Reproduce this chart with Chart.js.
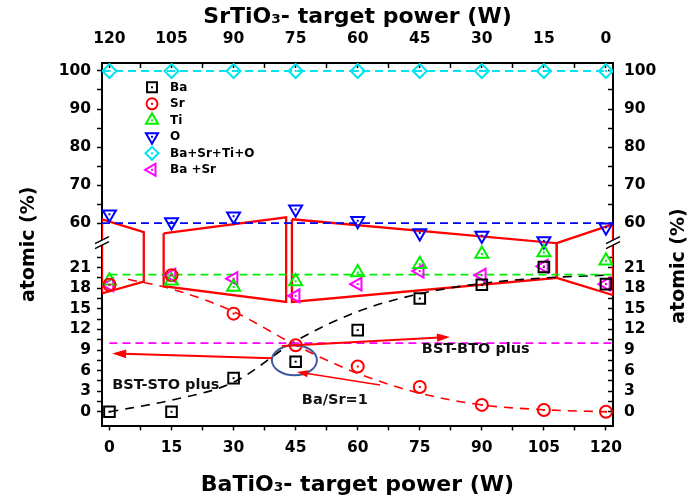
<!DOCTYPE html>
<html>
<head>
<meta charset="utf-8">
<script src="https://cdn.jsdelivr.net/npm/chart.js@4.4.0/dist/chart.umd.min.js"></script>
<style>
    body { margin: 0; background: #fff; }
    #wrap { width: 694px; height: 502px; position: relative; }
</style>
</head>
<body>
<div id="wrap"><canvas id="myChart"></canvas></div>
<script>
// BaTiO3 target power (bottom); SrTiO3 power on top is 120 - x
var power = [0, 15, 30, 45, 60, 75, 90, 105, 120]

var ba    = [0, 0, 4.9, 7.3, 11.9, 16.5, 18.5, 21.1, 18.6]
var sr    = [18.5, 19.9, 14.3, 9.7, 6.6, 3.6, 1.0, 0.25, 0]
var ti    = [19.1, 19.1, 18.2, 19.0, 20.3, 21.5, 23.0, 23.2, 22.0]
var oxy   = [62.3, 60.3, 61.8, 63.6, 60.6, 57.4, 56.7, 55.3, 58.9]
var total = [100, 100, 100, 100, 100, 100, 100, 100, 100]
var baSr  = [18.5, 19.9, 19.4, 16.9, 18.6, 20.5, 19.9, 21.2, 18.6]

// dashed guide curves
var baFitX = [0, 15, 30, 45, 60, 75, 90, 105, 120]
var baFitY = [0, 1.7, 4.3, 10.3, 14.6, 17.2, 18.7, 19.5, 19.9]
var srFitX = [4.5, 15, 30, 45, 60, 75, 90, 105, 120]
var srFitY = [19.3, 17.9, 14.6, 9.7, 5.6, 2.7, 1.0, 0.3, 0]

// horizontal dashed levels
var levelVal   = [100, 60, 20, 10]
var levelStart = [-1.8, -1.8, 0, 0]

// red outline boxes (power, atomic %)
var box1 = [[-1.8, 61.0], [8.3, 57.6], [8.3, 18.95], [-1.8, 17.25]]
var box2 = [[13.1, 57.3], [42.7, 61.5], [42.7, 16.0], [13.1, 18.3]]
var box3 = [[44.1, 61.0], [108.1, 54.7], [108.1, 19.5], [44.1, 16.0]]
var box4 = [[108.1, 54.7], [121.7, 59.7], [121.7, 17.0], [108.1, 19.5]]

// annotations
var arrowFrom = [[39.3, 7.8], [41.7, 9.6], [65.4, 3.9]]
var arrowTo   = [[0.65, 8.5], [82.3, 10.9], [45.3, 5.8]]
var noteText  = ['BST-STO plus', 'BST-BTO plus', 'Ba/Sr=1']
var noteAt    = [[0.65, 3.8], [75.5, 9.1], [46.5, 1.7]]
var ringAt    = [44.7, 7.5]

// ticks
var xLabels = [0, 15, 30, 45, 60, 75, 90, 105, 120]
var yLowLabels = [0, 3, 6, 9, 12, 15, 18, 21]
var yHighLabels = [60, 70, 80, 90, 100]

var X_MIN = -1.8, X_MAX = 121.7
var FONT = "'DejaVu Sans', sans-serif"

// broken y axis: 0..24 linear, then jump to 54..102 compressed
function brk(v) {
    var lowTop = 24, highBot = 54
    var dHighBot = 27.5 + (highBot - 60) * 0.554
    if (v <= lowTop) return v
    if (v >= highBot) return 27.5 + (v - 60) * 0.554
    return lowTop + (v - lowTop) / (highBot - lowTop) * (dHighBot - lowTop)
}

var xTickVals = []
for (var i = 0; i <= 16; i++) xTickVals.push(i * 7.5)
var yTickVals = []
for (var i = 0; i <= 15; i++) yTickVals.push(i * 1.5)
for (var i = 0; i <= 8; i++) yTickVals.push(60 + i * 5)

var yLabelMap = {}
yLowLabels.concat(yHighLabels).forEach(function (v) { yLabelMap[brk(v).toFixed(3)] = String(v) })

function pts(xs, ys) {
    return xs.map(function (x, i) { return { x: x, y: brk(ys[i]) } })
}
function poly(p) {
    var d = p.map(function (q) { return { x: q[0], y: brk(q[1]) } })
    d.push(d[0])
    return d
}

var series = [
    { label: 'Ba', ys: ba, color: '#000000', style: 'rect', rot: 0, r: 7.5 },
    { label: 'Sr', ys: sr, color: '#ff0000', style: 'circle', rot: 0, r: 6 },
    { label: 'Ti', ys: ti, color: '#00ee00', style: 'triangle', rot: 0, r: 7.5 },
    { label: 'O', ys: oxy, color: '#0000ff', style: 'triangle', rot: 180, r: 7.5 },
    { label: 'Ba+Sr+Ti+O', ys: total, color: '#00e5ee', style: 'rectRot', rot: 0, r: 7 },
    { label: 'Ba +Sr', ys: baSr, color: '#ff00ff', style: 'triangle', rot: 270, r: 7.5 }
]
var levelColors = ['#00e5ee', '#0000ff', '#00ee00', '#ff00ff']

var datasets = []
series.forEach(function (s) {
    datasets.push({
        label: s.label, data: pts(power, s.ys), showLine: false,
        pointStyle: s.style, rotation: s.rot, pointRotation: s.rot, pointRadius: s.r, pointHoverRadius: s.r,
        pointBorderWidth: 2, pointBorderColor: s.color, pointBackgroundColor: 'rgba(0,0,0,0)',
        borderColor: s.color, order: 0, marker: true
    })
})
levelVal.forEach(function (v, i) {
    datasets.push({
        data: pts([levelStart[i], X_MAX], [v, v]), showLine: true, pointRadius: 0,
        borderColor: levelColors[i], borderWidth: 1.8, borderDash: [8, 5], order: 1
    })
})
datasets.push({
    data: pts(baFitX, baFitY), showLine: true, pointRadius: 0, borderColor: '#000',
    borderWidth: 1.6, borderDash: [9, 7], cubicInterpolationMode: 'monotone', order: 1
})
datasets.push({
    data: pts(srFitX, srFitY), showLine: true, pointRadius: 0, borderColor: '#ff0000',
    borderWidth: 1.6, borderDash: [9, 7], cubicInterpolationMode: 'monotone', order: 1
})
;[box1, box2, box3, box4].forEach(function (b) {
    datasets.push({
        data: poly(b), showLine: true, pointRadius: 0, borderColor: '#ff0000',
        borderWidth: 2.3, tension: 0, order: 2
    })
})

function drawArrow(ctx, x1, y1, x2, y2, w, head) {
    var a = Math.atan2(y2 - y1, x2 - x1)
    var c = Math.cos(a), s = Math.sin(a)
    ctx.strokeStyle = '#ff0000'
    ctx.fillStyle = '#ff0000'
    ctx.lineWidth = w
    ctx.beginPath()
    ctx.moveTo(x1, y1)
    ctx.lineTo(x2 - head * 0.8 * c, y2 - head * 0.8 * s)
    ctx.stroke()
    ctx.beginPath()
    ctx.moveTo(x2, y2)
    ctx.lineTo(x2 - head * c + head * 0.32 * s, y2 - head * s - head * 0.32 * c)
    ctx.lineTo(x2 - head * c - head * 0.32 * s, y2 - head * s + head * 0.32 * c)
    ctx.closePath()
    ctx.fill()
}

function drawMarker(ctx, s, x, y) {
    ctx.save()
    ctx.strokeStyle = s.color
    ctx.fillStyle = 'rgba(0,0,0,0)'
    ctx.lineWidth = 2
    Chart.helpers.drawPoint(ctx, { pointStyle: s.style, rotation: s.rot, radius: s.r, borderWidth: 2 }, x, y)
    ctx.fillStyle = s.color
    ctx.fillRect(x - 1, y - 1, 2, 2)
    ctx.restore()
}

var extras = {
    id: 'extras',
    afterDatasetsDraw: function (chart) {
        var ctx = chart.ctx
        var xs = chart.scales.x, ys = chart.scales.y
        var area = chart.chartArea

        // centre dots of the open markers
        chart.data.datasets.forEach(function (ds, i) {
            if (!ds.marker) return
            ctx.fillStyle = ds.borderColor
            chart.getDatasetMeta(i).data.forEach(function (el) {
                ctx.fillRect(el.x - 1, el.y - 1, 2, 2)
            })
        })

        // ring around Ba/Sr = 1
        ctx.save()
        ctx.strokeStyle = '#3d5b9c'
        ctx.lineWidth = 2
        ctx.beginPath()
        ctx.ellipse(xs.getPixelForValue(ringAt[0]), ys.getPixelForValue(brk(ringAt[1])), 22.5, 15, 0, 0, Math.PI * 2)
        ctx.stroke()
        ctx.restore()

        var widths = [2, 2, 1.5], heads = [14, 13, 11]
        arrowFrom.forEach(function (f, i) {
            var t = arrowTo[i]
            drawArrow(ctx, xs.getPixelForValue(f[0]), ys.getPixelForValue(brk(f[1])),
                xs.getPixelForValue(t[0]), ys.getPixelForValue(brk(t[1])), widths[i], heads[i])
        })

        ctx.save()
        ctx.fillStyle = '#111'
        ctx.font = 'bold 14.5px ' + FONT
        ctx.textAlign = 'left'
        ctx.textBaseline = 'middle'
        noteText.forEach(function (t, i) {
            ctx.fillText(t, xs.getPixelForValue(noteAt[i][0]), ys.getPixelForValue(brk(noteAt[i][1])))
        })
        ctx.restore()

        // axis break marks
        var yb = ys.getPixelForValue(24.5)
        ;[area.left, area.right].forEach(function (ax) {
            ctx.save()
            ctx.fillStyle = '#fff'
            ctx.beginPath()
            ctx.moveTo(ax - 3, yb + 3)
            ctx.lineTo(ax + 3, yb)
            ctx.lineTo(ax + 3, yb - 5)
            ctx.lineTo(ax - 3, yb - 2)
            ctx.closePath()
            ctx.fill()
            ctx.strokeStyle = '#000'
            ctx.lineWidth = 1.5
            ctx.beginPath()
            ctx.moveTo(ax - 7, yb + 5); ctx.lineTo(ax + 7, yb - 2)
            ctx.moveTo(ax - 7, yb); ctx.lineTo(ax + 7, yb - 7)
            ctx.stroke()
            ctx.restore()
        })
    },
    afterDraw: function (chart) {
        var ctx = chart.ctx
        var area = chart.chartArea

        // right axis title
        ctx.save()
        ctx.translate(679, 266)
        ctx.rotate(-Math.PI / 2)
        ctx.fillStyle = '#000'
        ctx.font = 'bold 19px ' + FONT
        ctx.textAlign = 'center'
        ctx.textBaseline = 'middle'
        ctx.fillText('atomic (%)', 0, 0)
        ctx.restore()

        // legend
        ctx.save()
        ctx.font = 'bold 12px ' + FONT
        ctx.textAlign = 'left'
        ctx.textBaseline = 'middle'
        series.forEach(function (s, i) {
            var y = area.top + 24.3 + i * 16.5
            drawMarker(ctx, { color: s.color, style: s.style, rot: s.rot, r: s.r - 0.5 }, area.left + 50, y)
            ctx.fillStyle = '#000'
            ctx.fillText(s.label, area.left + 68, y + 0.5)
        })
        ctx.restore()
    }
}

function tickFont() { return { family: FONT, weight: 'bold', size: 15.5 } }
function gridOpts(len) {
    return { drawOnChartArea: false, drawTicks: true, tickLength: len, tickWidth: 1.5, tickColor: '#000' }
}
var borderOpts = { display: true, color: '#000', width: 2 }

var ctx = document.getElementById('myChart')

var myChart = new Chart(ctx, {
    type: 'scatter',
    data: { datasets: datasets },
    options: {
        responsive: true,
        maintainAspectRatio: false,
        animation: false,
        events: [],
        layout: { padding: 0 },
        plugins: { legend: { display: false }, tooltip: { enabled: false } },
        scales: {
            x: {
                type: 'linear', position: 'bottom', min: X_MIN, max: X_MAX,
                afterBuildTicks: function (s) { s.ticks = xTickVals.map(function (v) { return { value: v } }) },
                afterFit: function (s) { s.height = 76.5 },
                ticks: {
                    autoSkip: false, maxRotation: 0, color: '#000', font: tickFont(), padding: 8,
                    callback: function (v) { return xLabels.indexOf(v) >= 0 ? String(v) : '' }
                },
                grid: gridOpts(5), border: borderOpts,
                title: {
                    display: true, text: 'BaTiO\u2083- target power (W)', color: '#000',
                    font: { family: FONT, weight: 'bold', size: 22 }, padding: { top: 0, bottom: 4 }
                }
            },
            x2: {
                type: 'linear', position: 'top', min: X_MIN, max: X_MAX,
                afterBuildTicks: function (s) { s.ticks = xTickVals.map(function (v) { return { value: v } }) },
                afterFit: function (s) { s.height = 63 },
                ticks: {
                    autoSkip: false, maxRotation: 0, color: '#000', font: tickFont(), padding: 20,
                    callback: function (v) { return xLabels.indexOf(v) >= 0 ? String(120 - v) : '' }
                },
                grid: gridOpts(-5), border: borderOpts,
                title: {
                    display: true, text: 'SrTiO\u2083- target power (W)', color: '#000',
                    font: { family: FONT, weight: 'bold', size: 22 }, padding: { top: 4, bottom: 0 }
                }
            },
            y: {
                type: 'linear', position: 'left', min: brk(-2.0), max: brk(102.1),
                afterBuildTicks: function (s) { s.ticks = yTickVals.map(function (v) { return { value: brk(v) } }) },
                afterFit: function (s) { s.width = 102 },
                ticks: {
                    autoSkip: false, color: '#000', font: tickFont(), padding: 6,
                    callback: function (v) { return yLabelMap[v.toFixed(3)] || '' }
                },
                grid: gridOpts(5), border: borderOpts,
                title: {
                    display: true, text: 'atomic (%)', color: '#000',
                    font: { family: FONT, weight: 'bold', size: 19 }, padding: { top: 18, bottom: 0 }
                }
            },
            y2: {
                type: 'linear', position: 'right', min: brk(-2.0), max: brk(102.1),
                afterBuildTicks: function (s) { s.ticks = yTickVals.map(function (v) { return { value: brk(v) } }) },
                afterFit: function (s) { s.width = 81 },
                ticks: {
                    autoSkip: false, color: '#000', font: tickFont(), padding: 16,
                    callback: function (v) { return yLabelMap[v.toFixed(3)] || '' }
                },
                grid: gridOpts(-5), border: borderOpts
            }
        }
    },
    plugins: [extras]
})
</script>
</body>
</html>
